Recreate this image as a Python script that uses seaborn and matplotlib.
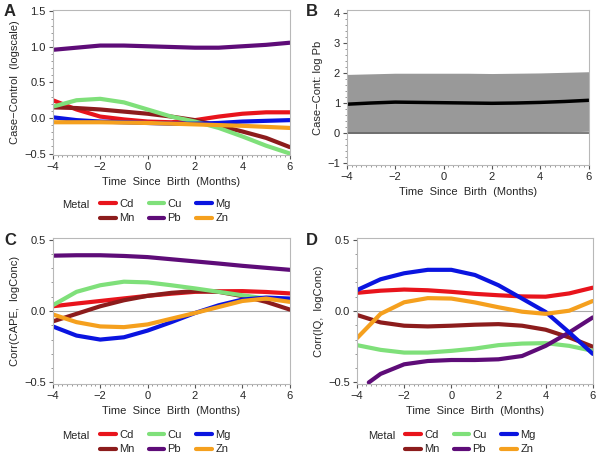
import numpy as np
import pandas as pd
import matplotlib
matplotlib.use("Agg")
import matplotlib.pyplot as plt
from matplotlib.ticker import MultipleLocator
import seaborn as sns

sns.set_style("white")
plt.rcParams['font.family'] = ['Liberation Sans', 'DejaVu Sans']

# time grid (months since birth)
months = [-4, -3, -2, -1, 0, 1, 2, 3, 4, 5, 6]
metals = ["Cd", "Mn", "Cu", "Pb", "Mg", "Zn"]
colors = {"Cd": "#e8141c", "Cu": "#7fe07a", "Mg": "#0a14e0",
          "Mn": "#8c1c1c", "Pb": "#5e0c78", "Zn": "#f5a01e"}

# Panel A: case-control difference (logscale)
caseA = {
    "Pb": [0.96, 0.99, 1.02, 1.02, 1.01, 1.00, 0.99, 0.99, 1.01, 1.03, 1.06],
    "Cu": [0.16, 0.25, 0.27, 0.22, 0.12, 0.02, -0.05, -0.14, -0.26, -0.39, -0.50],
    "Cd": [0.25, 0.12, 0.02, -0.02, -0.05, -0.06, -0.03, 0.02, 0.06, 0.08, 0.08],
    "Mn": [0.15, 0.14, 0.12, 0.09, 0.06, 0.02, -0.03, -0.11, -0.19, -0.28, -0.41],
    "Mg": [0.01, -0.03, -0.05, -0.06, -0.07, -0.08, -0.08, -0.07, -0.05, -0.04, -0.03],
    "Zn": [-0.06, -0.06, -0.06, -0.065, -0.07, -0.08, -0.09, -0.10, -0.11, -0.125, -0.14],
}

# Panel B: Pb case-control with band
pb_est = [0.97, 1.01, 1.04, 1.03, 1.02, 1.01, 1.00, 1.01, 1.03, 1.06, 1.10]
pb_lo = [0.00, 0.00, 0.01, 0.01, 0.01, 0.01, 0.01, 0.02, 0.03, 0.05, 0.07]
pb_hi = [1.96, 1.98, 2.00, 2.00, 2.00, 2.00, 1.99, 2.00, 2.01, 2.03, 2.05]

# Panel C: correlation with CAPE
corrC = {
    "Pb": [0.387, 0.39, 0.39, 0.385, 0.377, 0.362, 0.347, 0.332, 0.316, 0.302, 0.288],
    "Cu": [0.04, 0.134, 0.18, 0.205, 0.20, 0.18, 0.158, 0.134, 0.11, 0.087, 0.075],
    "Cd": [0.033, 0.052, 0.07, 0.088, 0.106, 0.121, 0.134, 0.138, 0.139, 0.133, 0.123],
    "Mn": [-0.073, -0.02, 0.033, 0.075, 0.106, 0.127, 0.139, 0.134, 0.104, 0.064, 0.01],
    "Mg": [-0.108, -0.172, -0.20, -0.184, -0.137, -0.078, -0.014, 0.04, 0.08, 0.094, 0.087],
    "Zn": [-0.024, -0.078, -0.108, -0.113, -0.094, -0.054, -0.014, 0.028, 0.07, 0.087, 0.064],
}

# Panel D: correlation with IQ
corrD = {
    "Mg": [0.146, 0.222, 0.264, 0.288, 0.288, 0.252, 0.18, 0.087, -0.007, -0.15, -0.30],
    "Cd": [0.127, 0.142, 0.15, 0.145, 0.134, 0.12, 0.11, 0.102, 0.10, 0.123, 0.163],
    "Zn": [-0.19, -0.02, 0.061, 0.09, 0.087, 0.06, 0.026, -0.005, -0.02, 0.002, 0.07],
    "Mn": [-0.028, -0.08, -0.103, -0.108, -0.103, -0.096, -0.092, -0.103, -0.131, -0.185, -0.25],
    "Cu": [-0.239, -0.272, -0.291, -0.291, -0.279, -0.263, -0.239, -0.228, -0.225, -0.244, -0.279],
    "Pb": [np.nan, -0.44, -0.373, -0.35, -0.343, -0.343, -0.338, -0.315, -0.244, -0.15, -0.045],
}
pbD_start = (-3.5, -0.50)


def long_df(d):
    rows = []
    for m, vals in d.items():
        for t, v in zip(months, vals):
            rows.append((t, v, m))
    return pd.DataFrame(rows, columns=["Time", "Value", "Metal"]).dropna()


def style_axes(ax, ylim, ymajor, yminor, ylabel):
    ax.set_xlim(-4, 6)
    ax.set_ylim(*ylim)
    ax.xaxis.set_major_locator(MultipleLocator(2))
    ax.xaxis.set_minor_locator(MultipleLocator(0.2))
    ax.yaxis.set_major_locator(MultipleLocator(ymajor))
    ax.yaxis.set_minor_locator(MultipleLocator(yminor))
    ax.tick_params(which="major", direction="out", length=3, width=0.8,
                   color="#555555", labelsize=8, bottom=True, left=True, pad=2)
    ax.tick_params(which="minor", direction="out", length=1.5, width=0.6,
                   color="#888888", bottom=True, left=True)
    for s in ax.spines.values():
        s.set_color("#b8b8b8")
        s.set_linewidth(0.8)
    ax.set_xlabel("Time  Since  Birth  (Months)", fontsize=8, labelpad=4)
    ax.set_ylabel(ylabel, fontsize=8, labelpad=3)


def add_legend(fig, ax, metal_x, handle_x, top_y):
    handles, labels = ax.get_legend_handles_labels()
    if ax.get_legend() is not None:
        ax.get_legend().remove()
    lg = fig.legend(handles, labels, ncol=3, loc="upper left",
                    bbox_to_anchor=(handle_x / 600, 1 - top_y / 457),
                    frameon=False, fontsize=8, borderpad=0, borderaxespad=0,
                    handlelength=1.4, handletextpad=0.3, columnspacing=1.3,
                    labelspacing=0.4)
    for h in lg.get_lines():
        h.set_linewidth(3)
    fig.text(metal_x / 600, 1 - (top_y + 6) / 457, "Metal", fontsize=8, va="center")


fig = plt.figure(figsize=(6, 4.57), dpi=100)
axA = fig.add_axes([0.088, 0.661, 0.395, 0.317])
axB = fig.add_axes([0.578, 0.639, 0.403, 0.339])
axC = fig.add_axes([0.088, 0.160, 0.395, 0.319])
axD = fig.add_axes([0.595, 0.160, 0.393, 0.319])

# A
sns.lineplot(data=long_df(caseA), x="Time", y="Value", hue="Metal",
             hue_order=metals, palette=colors, linewidth=3, ax=axA)
style_axes(axA, (-0.52, 1.52), 0.5, 0.1, "Case\u2212Control  (logscale)")
add_legend(fig, axA, 62, 100, 199)

# B
axB.fill_between(months, pb_lo, pb_hi, color="#999999", linewidth=0)
axB.axhline(0, color="#666666", linewidth=1.2)
sns.lineplot(x=months, y=pb_est, color="black", linewidth=2.5, ax=axB)
style_axes(axB, (-1.05, 4.1), 1, 0.2, "Case\u2212Cont: log Pb")

# C
sns.lineplot(data=long_df(corrC), x="Time", y="Value", hue="Metal",
             hue_order=metals, palette=colors, linewidth=3, ax=axC)
axC.axhline(0, color="#aaaaaa", linewidth=0.8, zorder=0)
style_axes(axC, (-0.51, 0.51), 0.5, 0.1, "Corr(CAPE,  logConc)")
add_legend(fig, axC, 62, 100, 430)

# D
dD = long_df(corrD)
dD = pd.concat([pd.DataFrame([{"Time": pbD_start[0], "Value": pbD_start[1], "Metal": "Pb"}]), dD])
dD = dD.sort_values(["Metal", "Time"])
sns.lineplot(data=dD, x="Time", y="Value", hue="Metal",
             hue_order=metals, palette=colors, linewidth=3, ax=axD)
axD.axhline(0, color="#aaaaaa", linewidth=0.8, zorder=0)
style_axes(axD, (-0.51, 0.51), 0.5, 0.1, "Corr(IQ,  logConc)")
add_legend(fig, axD, 368, 405, 430)

for letter, x, y in [("A", 4, 4), ("B", 306, 4), ("C", 4, 233), ("D", 306, 233)]:
    fig.text(x / 600, 1 - y / 457, letter, fontsize=12, fontweight="bold", va="top")

fig.savefig("out.png", dpi=100)
